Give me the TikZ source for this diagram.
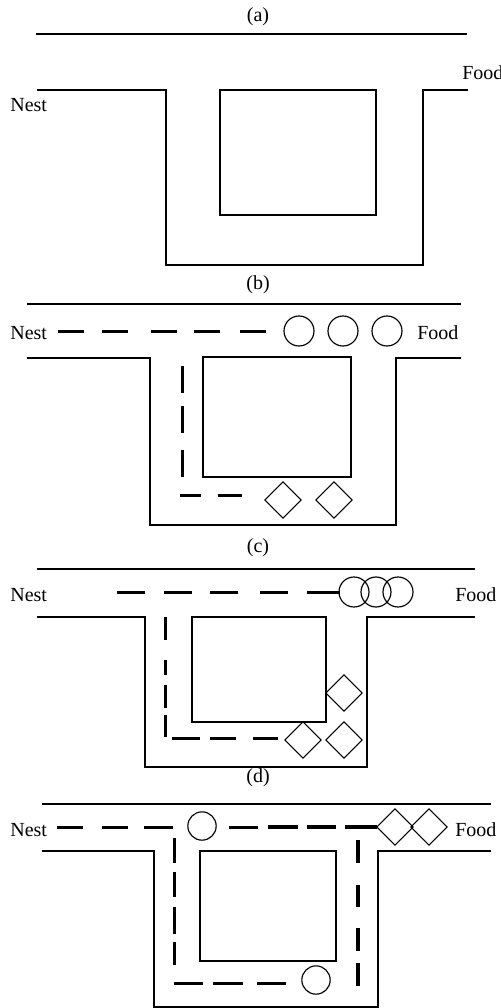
\documentclass[tikz,border=0pt]{standalone}
\usepackage{fontspec}
\setmainfont{Liberation Serif}
\usetikzlibrary{shapes.geometric}
\begin{document}
\begin{tikzpicture}[x=0.6pt,y=-0.6pt,
  wall/.style={line width=1pt},
  trail/.style={line width=1.8pt},
  strong/.style={line width=2.4pt},
  ant/.style={circle,draw,line width=0.7pt,minimum size=18pt,inner sep=0pt},
  antd/.style={circle,draw,line width=0.7pt,minimum size=17pt,inner sep=0pt},
  dia/.style={diamond,draw,line width=0.7pt,minimum size=22pt,inner sep=0pt},
  lbl/.style={font=\fontsize{12}{14}\selectfont,inner sep=0pt}]
\useasboundingbox (0,0) rectangle (501,1008);

% ---------- (a)
\node[lbl] (ta) at (258,17) {(a)};
\draw[wall] (36,34) -- (467,34);
\draw[wall] (37,90) -- (166,90) -- (166,265) -- (423,265) -- (423,90) -- (468,90);
\draw[wall] (220,90) rectangle (376,215);
\node[lbl,anchor=west] (na) at (10,105) {Nest};
\node[lbl,anchor=west] (fa) at (462,73) {Food};

% ---------- (b)
\node[lbl] (tb) at (258,285) {(b)};
\draw[wall] (27,304) -- (461,304);
\draw[wall] (27,358) -- (150,358) -- (150,525) -- (396,525) -- (396,358) -- (461,358);
\draw[wall] (203,357) rectangle (351,477);
\node[lbl,anchor=west] (nb) at (10,333) {Nest};
\node[lbl,anchor=west] (fb) at (417,333) {Food};
\draw[trail] (58,331) -- (84,331) (102,331) -- (128,331) (151,331) -- (177,331)
  (194,331) -- (220,331) (240,331) -- (266,331);
\draw[trail] (182,366) -- (182,393) (182,406) -- (182,433) (182,450) -- (182,477);
\draw[trail] (180,495) -- (201,495) (218,495) -- (242,495);
\node[ant] (b1) at (299,331) {};
\node[ant] (b2) at (343,331) {};
\node[ant] (b3) at (387,331) {};
\node[dia] (bd1) at (283,500) {};
\node[dia] (bd2) at (334,500) {};

% ---------- (c)
\node[lbl] (tc) at (258,548) {(c)};
\draw[wall] (37,569) -- (475,569);
\draw[wall] (37,617) -- (145,617) -- (145,767) -- (367,767) -- (367,617) -- (475,617);
\draw[wall] (192,617) rectangle (326,722);
\node[lbl,anchor=west] (nc) at (10,595) {Nest};
\node[lbl,anchor=west] (fc) at (455,595) {Food};
\draw[trail] (117,592) -- (145,592) (164,592) -- (192,592) (210,592) -- (238,592)
  (260,592) -- (288,592) (307,592) -- (340,592);
\draw[trail] (165,617) -- (165,640) (165,660) -- (165,675) (165,685) -- (165,708)
  (165,715) -- (165,737);
\draw[trail] (172,738) -- (200,738) (210,738) -- (236,738) (253,738) -- (278,738);
\node[ant] (c1) at (354,592) {};
\node[ant] (c2) at (376,592) {};
\node[ant] (c3) at (398,592) {};
\node[dia] (cd1) at (303,740) {};
\node[dia] (cd2) at (344,740) {};
\node[dia] (cd3) at (344,693) {};

% ---------- (d)
\node[lbl] (td) at (258,778) {(d)};
\draw[wall] (42,804) -- (491,804);
\draw[wall] (42,851) -- (154,851) -- (154,1007) -- (378,1007) -- (378,851) -- (491,851);
\draw[wall] (200,851) rectangle (336,961);
\node[lbl,anchor=west] (nd) at (10,830) {Nest};
\node[lbl,anchor=west] (fd) at (455,830) {Food};
\draw[trail] (57,827) -- (83,827) (102,827) -- (128,827) (144,827) -- (173,827);
\draw[trail] (229,827) -- (258,827);
\draw[strong] (268,827) -- (298,827) (307,827) -- (336,827) (345,827) -- (377,827);
\draw[trail] (174,838) -- (174,863) (174,872) -- (174,897) (174,907) -- (174,934)
  (174,942) -- (174,965);
\draw[trail] (174,983) -- (203,983) (213,983) -- (243,983) (257,983) -- (286,983);
\draw[strong] (358,840) -- (358,863) (358,885) -- (358,907) (358,928) -- (358,951)
  (358,963) -- (358,986);
\node[antd] (d1) at (202,826) {};
\node[antd] (d2) at (316,980) {};
\node[dia] (dd1) at (395,827) {};
\node[dia] (dd2) at (429,827) {};
\end{tikzpicture}
\end{document}
